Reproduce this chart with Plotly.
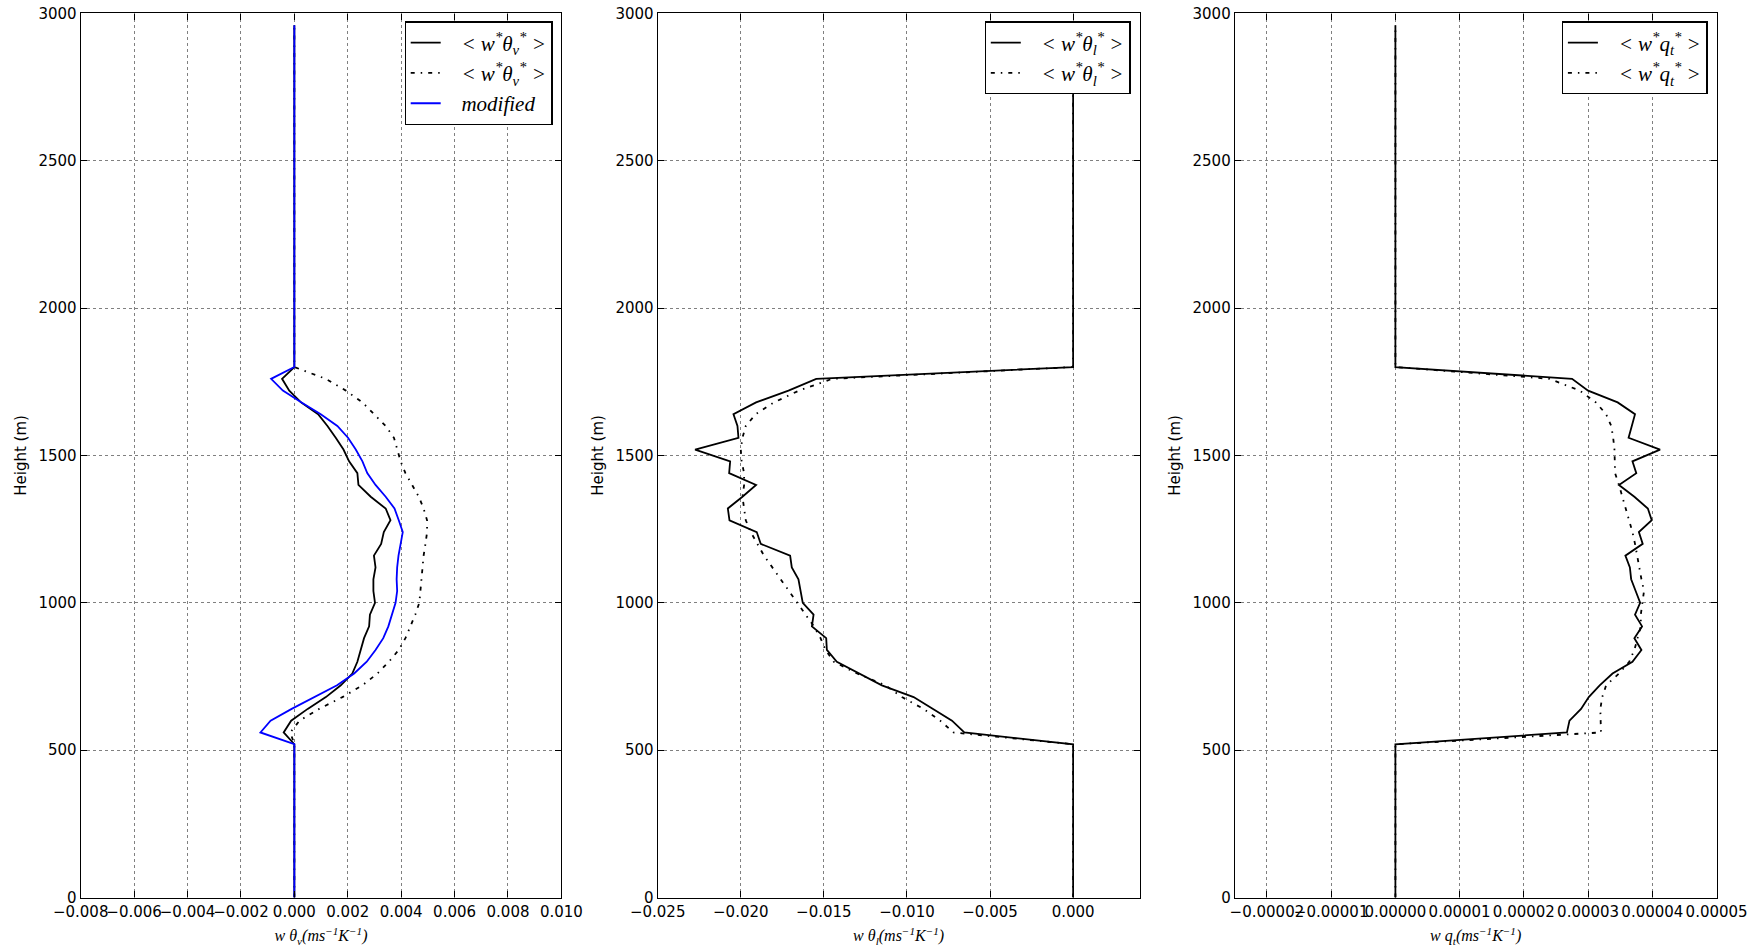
import plotly.graph_objects as go

# Heights (m): 0..2960 every 40 m; profiles are zero outside 560..1760 m
HEIGHTS = list(range(0, 3000, 40))
N_BELOW = 14   # 0..520 m
N_ABOVE = 30   # 1800..2960 m

# Panel 1 : w theta_v
THV_SOLID = [-0.0004, -0.00012, 0.0005, 0.00118, 0.00174, 0.00217, 0.00236, 0.00248, 0.00261, 0.0028,
             0.00283, 0.00302, 0.00296, 0.00296, 0.00304, 0.00298, 0.00325, 0.00335, 0.0036, 0.00342,
             0.00286, 0.0024, 0.00236, 0.00205, 0.00184, 0.00155, 0.00124, 0.00089, 0.00025, -0.00019, -0.00046]
THV_DOTTED = [-0.00015, 0.00019, 0.00093, 0.0018, 0.00255, 0.00311, 0.00354, 0.00391, 0.00416, 0.00435,
              0.00453, 0.00468, 0.00472, 0.00476, 0.00478, 0.00484, 0.00491, 0.00497, 0.00497, 0.00484,
              0.00466, 0.00441, 0.00416, 0.00398, 0.00385, 0.00373, 0.00342, 0.00298, 0.00255, 0.00193, 0.00118]
THV_MODIFIED = [-0.00127, -0.00089, -0.0001, 0.00076, 0.0016, 0.00224, 0.00271, 0.00304, 0.00333, 0.00352,
                0.00366, 0.00379, 0.00385, 0.00383, 0.00385, 0.0039, 0.00398, 0.00406, 0.00391, 0.00375,
                0.00342, 0.00304, 0.00273, 0.00255, 0.0023, 0.00201, 0.00161, 0.00099, 0.00027, -0.00043, -0.00087]

# Panel 2 : w theta_l
THL_SOLID = [-0.00655, -0.00729, -0.00843, -0.0096, -0.01151, -0.01291, -0.01422, -0.01482, -0.01486, -0.01572,
             -0.01562, -0.01627, -0.01639, -0.01653, -0.01693, -0.01703, -0.0188, -0.01904, -0.02068, -0.02078,
             -0.0199, -0.01908, -0.0207, -0.02064, -0.02275, -0.02014, -0.0202, -0.02044, -0.01908, -0.01713, -0.01546]
THL_DOTTED = [-0.0072, -0.0080, -0.0090, -0.0103, -0.0113, -0.0130, -0.0144, -0.0149, -0.0152, -0.0156,
              -0.0161, -0.0166, -0.0171, -0.0176, -0.0181, -0.0186, -0.0190, -0.0194, -0.0197, -0.0198,
              -0.0199, -0.0198, -0.0198, -0.01995, -0.0200, -0.0199, -0.0197, -0.0191, -0.0180, -0.0165, -0.0145]

# Panel 3 : w q_t
QT_SOLID = [2.67e-5, 2.71e-5, 2.89e-5, 3.01e-5, 3.18e-5, 3.38e-5, 3.69e-5, 3.83e-5, 3.72e-5, 3.84e-5,
            3.73e-5, 3.81e-5, 3.74e-5, 3.67e-5, 3.65e-5, 3.58e-5, 3.85e-5, 3.79e-5, 3.99e-5, 3.93e-5,
            3.72e-5, 3.48e-5, 3.75e-5, 3.69e-5, 4.12e-5, 3.63e-5, 3.68e-5, 3.73e-5, 3.46e-5, 3.0e-5, 2.75e-5]
QT_DOTTED = [3.20e-5, 3.19e-5, 3.19e-5, 3.22e-5, 3.28e-5, 3.48e-5, 3.64e-5, 3.72e-5, 3.77e-5, 3.82e-5,
             3.82e-5, 3.85e-5, 3.87e-5, 3.83e-5, 3.80e-5, 3.76e-5, 3.73e-5, 3.69e-5, 3.64e-5, 3.59e-5,
             3.54e-5, 3.48e-5, 3.42e-5, 3.42e-5, 3.41e-5, 3.39e-5, 3.36e-5, 3.28e-5, 3.12e-5, 2.87e-5, 2.40e-5]

Y_TICKS = [0, 500, 1000, 1500, 2000, 2500, 3000]
X1_TICKS = [-0.008, -0.006, -0.004, -0.002, 0.0, 0.002, 0.004, 0.006, 0.008, 0.010]
X1_TEXT = ["\u22120.008", "\u22120.006", "\u22120.004", "\u22120.002", "0.000", "0.002", "0.004", "0.006", "0.008", "0.010"]
X2_TICKS = [-0.025, -0.020, -0.015, -0.010, -0.005, 0.0]
X2_TEXT = ["\u22120.025", "\u22120.020", "\u22120.015", "\u22120.010", "\u22120.005", "0.000"]
X3_TICKS = [-0.00002, -0.00001, 0.0, 0.00001, 0.00002, 0.00003, 0.00004, 0.00005]
X3_TEXT = ["\u22120.00002", "\u22120.00001", "0.00000", "0.00001", "0.00002", "0.00003", "0.00004", "0.00005"]


def full(core):
    return [0.0] * N_BELOW + list(core) + [0.0] * N_ABOVE


LBL_V = "   <i>&lt; w<sup>*</sup>θ<sub>v</sub><sup>*</sup> &gt;</i>"
LBL_L = "   <i>&lt; w<sup>*</sup>θ<sub>l</sub><sup>*</sup> &gt;</i>"
LBL_Q = "   <i>&lt; w<sup>*</sup>q<sub>t</sub><sup>*</sup> &gt;</i>"
DASHDOT = "4px,6px,1.5px,6px"
LW = 1.8

fig = go.Figure()
fig.add_trace(go.Scatter(x=full(THV_SOLID), y=HEIGHTS, mode="lines", name=LBL_V,
                         line=dict(color="black", width=LW), xaxis="x", yaxis="y", legend="legend"))
fig.add_trace(go.Scatter(x=full(THV_DOTTED), y=HEIGHTS, mode="lines", name=LBL_V,
                         line=dict(color="black", width=LW, dash=DASHDOT), xaxis="x", yaxis="y", legend="legend"))
fig.add_trace(go.Scatter(x=full(THV_MODIFIED), y=HEIGHTS, mode="lines", name="   <i>modified</i>",
                         line=dict(color="#0000ff", width=LW), xaxis="x", yaxis="y", legend="legend"))
fig.add_trace(go.Scatter(x=full(THL_SOLID), y=HEIGHTS, mode="lines", name=LBL_L,
                         line=dict(color="black", width=LW), xaxis="x2", yaxis="y2", legend="legend2"))
fig.add_trace(go.Scatter(x=full(THL_DOTTED), y=HEIGHTS, mode="lines", name=LBL_L,
                         line=dict(color="black", width=LW, dash=DASHDOT), xaxis="x2", yaxis="y2", legend="legend2"))
fig.add_trace(go.Scatter(x=full(QT_SOLID), y=HEIGHTS, mode="lines", name=LBL_Q,
                         line=dict(color="black", width=LW), xaxis="x3", yaxis="y3", legend="legend3"))
fig.add_trace(go.Scatter(x=full(QT_DOTTED), y=HEIGHTS, mode="lines", name=LBL_Q,
                         line=dict(color="black", width=LW, dash=DASHDOT), xaxis="x3", yaxis="y3", legend="legend3"))

W, H = 1757, 949
doms = [(80.7, 561.4), (657.7, 1139.6), (1234.8, 1716.6)]
ydom = [(H - 897.5) / H, (H - 13.4) / H]

tickfont = dict(family="DejaVu Sans", size=15, color="black")
labfont = dict(family="Liberation Serif", size=16, color="black")

common_x = dict(showline=True, linecolor="black", linewidth=1.2, mirror="allticks", ticks="inside",
                ticklen=6, tickcolor="black", showgrid=True, gridcolor="#808080", griddash="dot",
                gridwidth=1, zeroline=False, tickfont=tickfont, tickmode="array", tickangle=0,
                automargin=False)
common_y = dict(showline=True, linecolor="black", linewidth=1.2, mirror="allticks", ticks="inside",
                ticklen=6, tickcolor="black", showgrid=True, gridcolor="#808080", griddash="dot",
                gridwidth=1, zeroline=False, tickfont=tickfont, range=[0, 3000], tickmode="array",
                tickvals=Y_TICKS, ticktext=[str(v) for v in Y_TICKS], automargin=False,
                title=dict(text="Height (m)", font=dict(family="DejaVu Sans", size=15, color="black"), standoff=8))

xtitles = ["<i>w θ<sub>v</sub>(ms<sup>−1</sup>K<sup>−1</sup>)</i>",
           "<i>w θ<sub>l</sub>(ms<sup>−1</sup>K<sup>−1</sup>)</i>",
           "<i>w q<sub>t</sub>(ms<sup>−1</sup>K<sup>−1</sup>)</i>"]
xranges = [[-0.008, 0.010], [-0.025, 0.004], [-0.000025, 0.00005]]
xticks = [(X1_TICKS, X1_TEXT), (X2_TICKS, X2_TEXT), (X3_TICKS, X3_TEXT)]

layout = dict(width=W, height=H, margin=dict(l=0, r=0, t=0, b=0, autoexpand=False),
              paper_bgcolor="white", plot_bgcolor="white", showlegend=True)
for i in range(3):
    sx = "" if i == 0 else str(i + 1)
    layout["xaxis" + sx] = dict(common_x, domain=[doms[i][0] / W, doms[i][1] / W], range=xranges[i],
                                tickvals=xticks[i][0], ticktext=xticks[i][1], anchor="y" + sx,
                                title=dict(text=xtitles[i], font=labfont, standoff=10))
    layout["yaxis" + sx] = dict(common_y, domain=ydom, anchor="x" + sx)

leg_right = [552.5, 1130.6, 1707.7]
for i in range(3):
    key = "legend" if i == 0 else "legend%d" % (i + 1)
    layout[key] = dict(x=leg_right[i] / W, xanchor="right", y=(H - 21.3) / H, yanchor="top",
                       xref="paper", yref="paper", bgcolor="white", bordercolor="black", borderwidth=1.2,
                       font=dict(family="Liberation Serif", size=21, color="black"), tracegroupgap=0)

fig.update_layout(**layout)
fig.write_html("out.html")
